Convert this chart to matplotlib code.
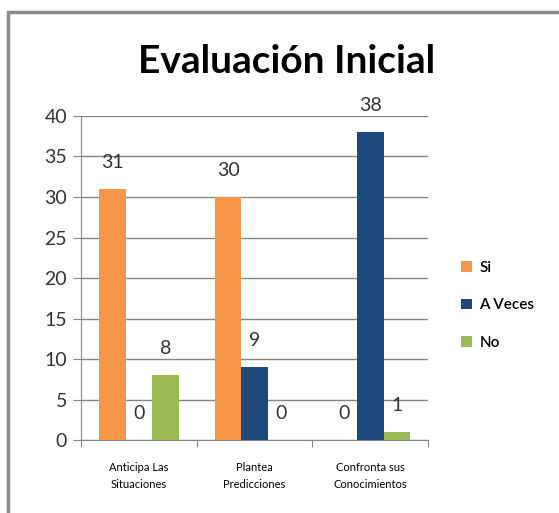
import matplotlib.pyplot as plt
import numpy as np
from matplotlib.patches import Rectangle

categorias = ['Anticipa Las\nSituaciones', 'Plantea\nPredicciones', 'Confronta sus\nConocimientos']
si = [31, 30, 0]
a_veces = [0, 9, 38]
no = [8, 0, 1]
series = ['Si', 'A Veces', 'No']
colores = ['#F79646', '#1F497D', '#9BBB59']

plt.rcParams['font.family'] = ['Lato', 'DejaVu Sans']

fig = plt.figure(figsize=(5.59, 5.13), dpi=100)
ax = fig.add_axes([0.145, 0.142, 0.621, 0.632])

# marco del grafico
fig.patches.append(Rectangle((8 / 559, -0.05), 1.1, 1 - 12 / 513 + 0.05,
                             transform=fig.transFigure, fill=False,
                             edgecolor='#8c8c8c', linewidth=2.5))

x = np.arange(len(categorias))
w = 0.23
for i, (vals, lab, col) in enumerate(zip([si, a_veces, no], series, colores)):
    xs = x + (i - 1) * w
    ax.bar(xs, vals, width=w, color=col, label=lab, zorder=3)
    for xx, v in zip(xs, vals):
        ax.text(xx, v + 2.2, str(v), ha='center', va='bottom', fontsize=14,
                color='#333333')

ax.set_xlim(-0.5, 2.5)
ax.set_ylim(0, 40)
ax.set_yticks(range(0, 41, 5))
ax.tick_params(axis='y', labelsize=14, length=6, color='#868686', pad=4,
               labelcolor='#333333')
ax.yaxis.grid(True, color='#868686', linewidth=1, zorder=0)
ax.set_xticks([-0.5, 0.5, 1.5, 2.5])
ax.set_xticklabels([])
ax.set_xticks(x, minor=True)
ax.set_xticklabels(categorias, minor=True, fontsize=8, linespacing=1.6)
ax.tick_params(axis='x', which='major', length=5, color='#868686')
ax.tick_params(axis='x', which='minor', length=0, pad=16)
for s in ['top', 'right']:
    ax.spines[s].set_visible(False)
for s in ['left', 'bottom']:
    ax.spines[s].set_color('#868686')

fig.text(0.512, 0.88, 'Evaluación Inicial', ha='center', va='center',
         fontsize=28, fontweight='bold')

leg = fig.legend(loc='center left', bbox_to_anchor=(0.80, 0.405), frameon=False,
                 fontsize=11, handlelength=0.7, handleheight=0.7,
                 labelspacing=1.55, handletextpad=0.5)
for t in leg.get_texts():
    t.set_fontweight('semibold')

fig.savefig('out.png', dpi=100)
